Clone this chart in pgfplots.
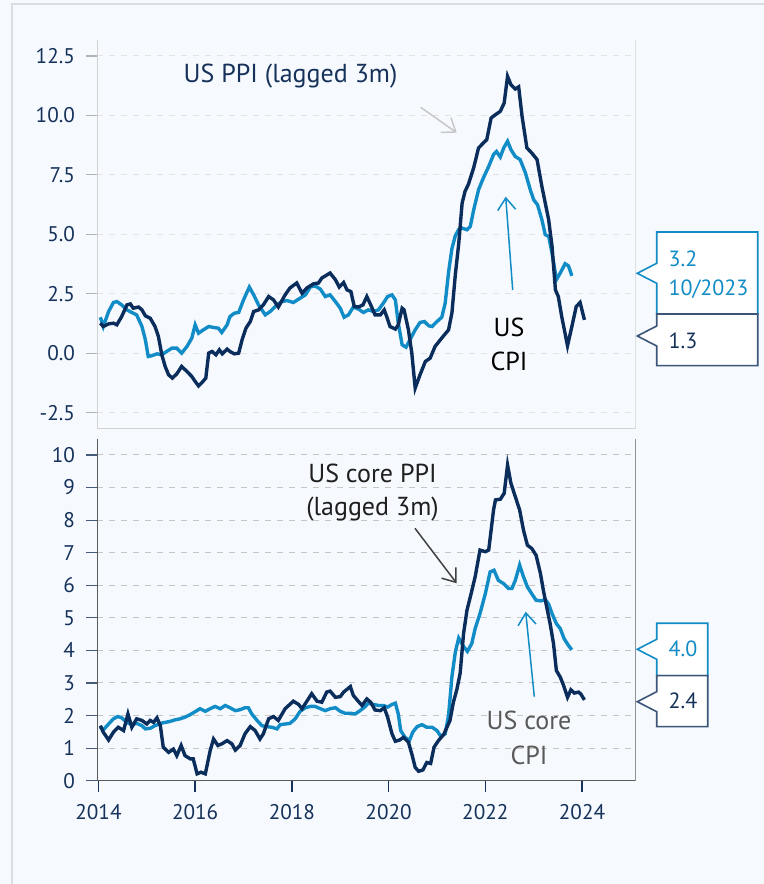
\documentclass[border=0pt]{standalone}
\usepackage{fontspec}
\setmainfont{PT Sans}
\usepackage{pgfplots}
\pgfplotsset{compat=1.18}
\usetikzlibrary{arrows.meta}
\definecolor{navy}{RGB}{11,45,92}
\definecolor{lblue}{RGB}{18,140,198}
\definecolor{bg}{RGB}{246,250,254}
\definecolor{txtnavy}{RGB}{22,50,90}
\definecolor{framec}{RGB}{215,222,228}
\definecolor{boxnavy}{RGB}{60,85,120}
\begin{document}
\begin{tikzpicture}
\useasboundingbox (0,0) rectangle (382pt,442pt);
\fill[bg] (0,0) rectangle (382pt,442pt);
\begin{scope}[x=0.5pt,y=-0.5pt,yshift=442pt]
\draw[framec, line width=0.8pt] (12,884) -- (12,4) -- (764,4);
\end{scope}
\pgfplotsset{
 common/.style={
   scale only axis, width=269.35pt,
   xmin=2013.97, xmax=2025.11,
   axis line style={draw=none},
   tick label style={font=\fontsize{10.6}{12}\selectfont, text=txtnavy},
   /pgf/number format/assume math mode=true,
   major tick length=5.5pt,
   tick align=outside,
   ytick pos=left, xtick pos=bottom,
   ymajorgrids,
   yticklabel style={xshift=-2pt},
 }
}
% ---------------- top panel
\begin{axis}[common,
  at={(48.5pt,227.5pt)}, anchor=south west, height=194.5pt,
  ymin=-3.19, ymax=13.17,
  xtick=\empty,
  ytick={-2.5,0,2.5,5,7.5,10,12.5},
  yticklabels={-2.5,0.0,2.5,5.0,7.5,10.0,12.5},
  ytick style={draw=gray!60, line width=0.6pt},
  major grid style={dashed, gray!22, line width=0.5pt},
]
\draw[gray!35, line width=0.8pt] (rel axis cs:0,1) -- (rel axis cs:0,0) -- (rel axis cs:1,0) -- (rel axis cs:1,1);
% US CPI
\addplot[lblue, line width=1.7pt] coordinates {
(2014.04,1.51)(2014.10,1.12)(2014.21,1.75)(2014.31,2.13)(2014.38,2.17)(2014.48,2.03)
(2014.59,1.82)(2014.69,1.71)(2014.79,1.61)(2014.90,1.12)(2014.97,0.56)(2015.03,-0.14)
(2015.10,-0.11)(2015.21,-0.03)(2015.31,-0.07)(2015.41,0.07)(2015.52,0.21)(2015.62,0.21)
(2015.72,0.0)(2015.83,0.28)(2015.93,0.63)(2016.00,1.19)(2016.07,0.84)(2016.17,0.98)
(2016.28,1.12)(2016.38,1.08)(2016.48,1.05)(2016.55,0.87)(2016.66,1.19)(2016.72,1.54)
(2016.81,1.68)(2016.90,1.71)(2017.00,2.24)(2017.12,2.78)(2017.21,2.45)(2017.31,2.03)
(2017.45,1.61)(2017.55,1.75)(2017.69,2.03)(2017.79,2.17)(2017.90,2.21)(2018.03,2.13)
(2018.17,2.31)(2018.28,2.45)(2018.38,2.78)(2018.48,2.83)(2018.59,2.69)(2018.69,2.38)
(2018.79,2.45)(2018.90,2.17)(2019.00,1.89)(2019.08,1.51)(2019.17,1.61)(2019.27,1.94)
(2019.38,1.85)(2019.48,1.71)(2019.58,1.82)(2019.69,1.75)(2019.79,1.82)(2019.89,2.10)
(2019.98,2.38)(2020.07,2.45)(2020.14,2.24)(2020.20,1.26)(2020.28,0.35)(2020.36,0.25)
(2020.46,0.63)(2020.55,0.98)(2020.65,1.29)(2020.74,1.33)(2020.83,1.15)(2020.90,1.12)
(2021.00,1.33)(2021.10,1.51)(2021.17,2.10)(2021.24,3.4)(2021.31,4.4)(2021.38,4.94)
(2021.45,5.2)(2021.52,5.26)(2021.62,5.19)(2021.69,5.33)(2021.76,6.03)(2021.86,6.87)
(2021.96,7.37)(2022.07,7.85)(2022.17,8.35)(2022.23,8.48)(2022.31,8.25)(2022.38,8.63)
(2022.46,8.91)(2022.53,8.56)(2022.62,8.27)(2022.72,8.14)(2022.83,7.58)(2022.93,6.87)
(2023.00,6.45)(2023.08,6.24)(2023.17,5.61)(2023.24,4.98)(2023.31,4.91)(2023.38,4.21)
(2023.47,3.09)(2023.55,3.37)(2023.65,3.76)(2023.72,3.67)(2023.79,3.25)
};
% US PPI lagged
\addplot[navy, line width=1.7pt] coordinates {
(2014.04,1.26)(2014.10,1.12)(2014.21,1.23)(2014.31,1.26)(2014.38,1.19)(2014.48,1.54)
(2014.59,2.03)(2014.66,2.07)(2014.72,1.89)(2014.83,1.94)(2014.90,1.82)(2014.97,1.57)
(2015.07,1.47)(2015.17,1.12)(2015.24,0.70)(2015.31,-0.07)(2015.38,-0.56)(2015.45,-0.91)
(2015.53,-1.05)(2015.62,-0.87)(2015.72,-0.56)(2015.83,-0.77)(2015.93,-0.98)(2016.00,-1.19)
(2016.07,-1.38)(2016.14,-1.24)(2016.22,-1.05)(2016.28,0.0)(2016.35,0.07)(2016.43,-0.07)
(2016.50,0.14)(2016.56,-0.03)(2016.66,0.17)(2016.72,0.07)(2016.81,-0.03)(2016.90,0.0)
(2016.97,0.56)(2017.05,1.05)(2017.14,1.33)(2017.21,1.75)(2017.31,1.82)(2017.41,2.03)
(2017.52,2.38)(2017.62,2.24)(2017.72,1.94)(2017.86,2.45)(2017.96,2.74)(2018.10,2.95)
(2018.21,2.52)(2018.31,2.74)(2018.45,2.92)(2018.55,2.95)(2018.62,3.16)(2018.79,3.37)
(2018.90,3.09)(2018.98,2.78)(2019.07,2.97)(2019.14,2.66)(2019.22,2.59)(2019.29,1.96)
(2019.38,1.94)(2019.47,2.03)(2019.55,2.38)(2019.63,2.03)(2019.72,1.61)(2019.83,1.61)
(2019.91,1.82)(2019.96,1.54)(2020.03,1.12)(2020.14,1.01)(2020.20,1.19)(2020.28,1.89)
(2020.32,1.82)(2020.41,0.98)(2020.48,0.0)(2020.55,-1.47)(2020.65,-0.91)(2020.76,-0.35)
(2020.86,-0.21)(2020.96,0.28)(2021.07,0.56)(2021.17,0.81)(2021.24,0.98)(2021.31,1.7)
(2021.38,3.3)(2021.45,4.6)(2021.52,6.3)(2021.58,6.8)(2021.65,7.1)(2021.76,7.8)
(2021.86,8.63)(2021.96,8.84)(2022.03,8.98)(2022.12,9.89)(2022.21,10.03)(2022.31,10.17)
(2022.39,10.52)(2022.46,11.64)(2022.53,11.29)(2022.62,11.11)(2022.69,11.2)(2022.76,9.96)
(2022.86,8.63)(2022.96,8.42)(2023.07,8.14)(2023.17,7.01)(2023.24,6.31)(2023.31,5.61)
(2023.38,4.49)(2023.45,2.66)(2023.51,2.38)(2023.58,1.54)(2023.70,0.31)(2023.79,1.12)
(2023.88,1.96)(2023.96,2.13)(2024.05,1.40)
};
\end{axis}
% ---------------- bottom panel
\begin{axis}[common,
  at={(48.5pt,51.65pt)}, anchor=south west, height=170.85pt,
  ymin=0, ymax=10.49,
  xtick={2014,2016,2018,2020,2022,2024},
  xticklabels={2014,2016,2018,2020,2022,2024},
  xticklabel style={yshift=-3pt},
  ytick={0,1,...,10},
  ytick style={draw=txtnavy!80, line width=0.6pt},
  xtick style={draw=txtnavy, line width=0.8pt},
  major grid style={dashed, gray!45, line width=0.5pt},
]
\draw[black!65, line width=0.9pt] (rel axis cs:0,1) -- (rel axis cs:0,0) -- (rel axis cs:1,0) -- (rel axis cs:1,1);
% US core CPI
\addplot[lblue, line width=1.7pt] coordinates {
(2014.04,1.64)(2014.10,1.56)(2014.21,1.74)(2014.31,1.90)(2014.40,1.97)(2014.48,1.93)
(2014.59,1.79)(2014.69,1.72)(2014.79,1.76)(2014.90,1.69)(2014.97,1.59)(2015.07,1.61)
(2015.17,1.69)(2015.28,1.76)(2015.38,1.79)(2015.48,1.82)(2015.59,1.87)(2015.69,1.90)
(2015.79,1.95)(2015.90,2.03)(2016.00,2.12)(2016.10,2.21)(2016.21,2.13)(2016.31,2.21)
(2016.41,2.28)(2016.52,2.21)(2016.62,2.31)(2016.72,2.24)(2016.83,2.15)(2016.93,2.18)
(2017.03,2.24)(2017.10,2.24)(2017.17,2.05)(2017.28,1.85)(2017.38,1.69)(2017.48,1.66)
(2017.59,1.64)(2017.69,1.59)(2017.76,1.72)(2017.86,1.74)(2017.96,1.76)(2018.07,1.90)
(2018.17,2.13)(2018.28,2.24)(2018.38,2.28)(2018.48,2.28)(2018.59,2.21)(2018.69,2.15)
(2018.79,2.21)(2018.90,2.24)(2019.00,2.13)(2019.10,2.07)(2019.21,2.07)(2019.31,2.05)
(2019.41,2.15)(2019.52,2.28)(2019.58,2.38)(2019.69,2.34)(2019.79,2.31)(2019.89,2.31)
(2019.98,2.26)(2020.07,2.34)(2020.14,2.38)(2020.20,2.05)(2020.25,1.54)(2020.34,1.33)
(2020.43,1.23)(2020.50,1.49)(2020.59,1.66)(2020.69,1.72)(2020.79,1.64)(2020.90,1.64)
(2021.00,1.54)(2021.08,1.36)(2021.17,1.44)(2021.24,2.0)(2021.31,3.2)(2021.38,3.95)
(2021.45,4.38)(2021.55,4.12)(2021.63,3.97)(2021.72,4.21)(2021.79,4.67)(2021.89,5.13)
(2022.00,5.74)(2022.10,6.41)(2022.18,6.46)(2022.27,6.15)(2022.38,6.05)(2022.48,5.90)
(2022.55,5.90)(2022.62,6.15)(2022.71,6.62)(2022.79,6.26)(2022.87,5.95)(2022.96,5.74)
(2023.05,5.54)(2023.15,5.52)(2023.24,5.56)(2023.31,5.42)(2023.38,5.13)(2023.47,4.82)
(2023.55,4.67)(2023.63,4.36)(2023.72,4.15)(2023.79,4.02)
};
% US core PPI lagged
\addplot[navy, line width=1.7pt] coordinates {
(2014.04,1.69)(2014.10,1.49)(2014.21,1.25)(2014.31,1.49)(2014.41,1.64)(2014.52,1.54)
(2014.61,2.05)(2014.69,1.64)(2014.79,1.90)(2014.90,1.85)(2015.00,1.74)(2015.07,1.85)
(2015.14,1.79)(2015.21,1.93)(2015.28,1.69)(2015.34,1.03)(2015.45,0.87)(2015.55,0.97)
(2015.62,0.77)(2015.71,1.08)(2015.79,0.77)(2015.90,0.67)(2015.96,0.67)(2016.04,0.21)
(2016.12,0.26)(2016.21,0.21)(2016.31,0.92)(2016.38,1.28)(2016.47,1.08)(2016.55,1.13)
(2016.66,1.23)(2016.76,1.13)(2016.83,0.94)(2016.93,1.08)(2017.03,1.44)(2017.14,1.66)
(2017.24,1.54)(2017.34,1.28)(2017.41,1.44)(2017.52,1.90)(2017.62,1.97)(2017.72,1.85)
(2017.86,2.21)(2018.03,2.44)(2018.14,2.34)(2018.21,2.21)(2018.31,2.44)(2018.41,2.67)
(2018.52,2.44)(2018.62,2.41)(2018.72,2.72)(2018.79,2.75)(2018.90,2.56)(2019.00,2.58)
(2019.07,2.72)(2019.21,2.89)(2019.27,2.62)(2019.36,2.46)(2019.45,2.31)(2019.55,2.51)
(2019.63,2.41)(2019.72,2.17)(2019.83,2.15)(2019.91,2.24)(2019.98,1.95)(2020.07,1.44)
(2020.14,1.21)(2020.23,1.25)(2020.31,1.33)(2020.41,1.18)(2020.48,0.82)(2020.55,0.41)
(2020.62,0.29)(2020.71,0.33)(2020.79,0.56)(2020.87,0.53)(2020.94,1.03)(2021.03,1.23)
(2021.14,1.42)(2021.27,1.85)(2021.34,2.41)(2021.41,2.79)(2021.48,3.3)(2021.55,4.51)
(2021.62,5.23)(2021.69,5.64)(2021.79,6.26)(2021.89,7.08)(2022.00,7.03)(2022.07,7.08)
(2022.12,7.69)(2022.17,8.31)(2022.21,8.62)(2022.31,8.64)(2022.39,8.82)(2022.46,9.69)
(2022.53,9.13)(2022.62,8.72)(2022.71,8.31)(2022.79,7.69)(2022.87,7.23)(2022.96,7.13)
(2023.05,6.92)(2023.14,6.36)(2023.20,5.85)(2023.27,5.33)(2023.34,4.82)(2023.41,4.21)
(2023.47,3.38)(2023.55,3.18)(2023.62,2.92)(2023.70,2.56)(2023.77,2.79)(2023.84,2.69)
(2023.93,2.72)(2023.98,2.65)(2024.05,2.48)
};
\end{axis}
% ---------------- annotations (pixel coordinates)
\begin{scope}[x=0.5pt,y=-0.5pt,yshift=442pt]
\tikzset{ann/.style={inner sep=0pt, font=\fontsize{13}{15}\selectfont},
         arr/.style={line width=0.75pt, -{Straight Barb[length=6pt,width=9pt,line width=0.75pt]}}}
\node[ann, anchor=base west, text=txtnavy] at (183.3,82.3) {US PPI (lagged 3m)};
\node[ann, anchor=base, text=black] at (509,336.7) {US};
\node[ann, anchor=base, text=black] at (509,371) {CPI};
\node[ann, anchor=base, text=black!88] at (372.5,482.3) {US core PPI};
\node[ann, anchor=base, text=black!88] at (372.5,516) {(lagged 3m)};
\node[ann, anchor=base, text=black!65] at (529,729.3) {US core};
\node[ann, anchor=base, text=black!65] at (529,764.3) {CPI};
\draw[arr, black!22] (420.7,107.3) -- (456.7,132.7);
\draw[arr, lblue] (512.7,290) -- (505.7,196.7);
\draw[arr, black!75] (415,528.3) -- (456.7,583.3);
\draw[arr, lblue] (534.3,696.7) -- (525.7,611.7);
% value boxes
\tikzset{vb/.style={inner sep=0pt, anchor=base west, font=\fontsize{11}{13}\selectfont}}
\filldraw[fill=white, draw=lblue, line width=0.8pt] (656.7,232) -- (757.7,232) -- (757.7,314) -- (656.7,314) -- (656.7,283.3) -- (637.3,273.3) -- (656.7,263.3) -- cycle;
\filldraw[fill=white, draw=boxnavy, line width=0.8pt] (656.7,314) -- (757.7,314) -- (757.7,365.7) -- (656.7,365.7) -- (656.7,346) -- (637.3,336) -- (656.7,326) -- cycle;
\node[vb, text=lblue] at (668.3,266.7) {3.2};
\node[vb, text=lblue] at (668.3,296) {10/2023};
\node[vb, text=txtnavy] at (668.3,348.3) {1.3};
\filldraw[fill=white, draw=lblue, line width=0.8pt] (656.7,623.3) -- (707.7,623.3) -- (707.7,675.7) -- (656.7,675.7) -- (656.7,659.3) -- (637.3,649.3) -- (656.7,639.3) -- cycle;
\filldraw[fill=white, draw=boxnavy, line width=0.8pt] (656.7,675.7) -- (707.7,675.7) -- (707.7,726.7) -- (656.7,726.7) -- (656.7,711.7) -- (637.3,701.7) -- (656.7,691.7) -- cycle;
\node[vb, text=lblue] at (668.3,656.7) {4.0};
\node[vb, text=txtnavy] at (668.3,708.3) {2.4};
\end{scope}
\end{tikzpicture}
\end{document}
